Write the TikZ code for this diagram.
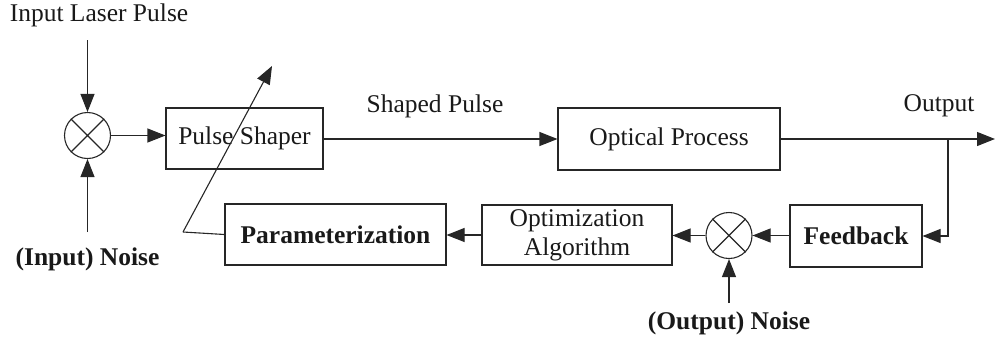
\documentclass[tikz,border=0pt]{standalone}
\usepackage{fontspec}
\setmainfont{Liberation Serif}
\usetikzlibrary{arrows.meta}
\begin{document}
\begin{tikzpicture}[x=1pt,y=-1pt,
  line width=1.1pt, draw=black!85,
  every node/.style={font=\fontsize{25.5}{29}\selectfont, text=black!90},
  blk/.style={draw, line width=1.1pt, inner sep=0pt, align=center},
  sumc/.style={draw, circle, line width=1.1pt, minimum size=46pt, inner sep=0pt},
  arr/.style={-{Triangle[length=18pt,width=14pt]}},
  bf/.style={font=\fontsize{25.5}{29}\selectfont\bfseries}]
\useasboundingbox (0,0) rectangle (995,341);
% summing junctions
\node[sumc] (s1) at (87.5,135.5) {};
\draw (s1.north west) -- (s1.south east) (s1.north east) -- (s1.south west);
\node[sumc] (s2) at (729,235.5) {};
\draw (s2.north west) -- (s2.south east) (s2.north east) -- (s2.south west);
% blocks
\node[blk, minimum width=157pt, minimum height=61pt] (ps) at (244.5,138.5) {Pulse Shaper};
\node[blk, minimum width=222pt, minimum height=62pt] (op) at (669,139) {Optical Process};
\node[blk, bf, minimum width=221pt, minimum height=61pt] (pa) at (335.5,234.5) {Parameterization};
\node[blk, minimum width=190pt, minimum height=60pt, font=\fontsize{25.5}{28}\selectfont] (oa) at (577,235) {Optimization\\[1pt]Algorithm};
\node[blk, bf, minimum width=132pt, minimum height=62pt] (fb) at (856,236) {Feedback};
% labels
\node (lin) at (99,15) {Input Laser Pulse};
\node[bf] (nin) at (87.5,259) {(Input) Noise};
\node[bf] (nout) at (729,323) {(Output) Noise};
\node (lsp) at (435,106) {Shaped Pulse};
\node (lout) at (939,106) {Output};
% coordinates
\coordinate (inTop) at (87.5,40);
\coordinate (inBot) at (87.5,232);
\coordinate (outBot) at (729,303);
\coordinate (outEnd) at (995,139);
\coordinate (br) at (948,139);
\coordinate (kink) at (183,232);
\coordinate (tip) at (272,66);
% connectors
\draw[arr] (inTop) -- (s1.north);
\draw[arr] (inBot) -- (s1.south);
\draw[arr] (s1.east) -- (s1.east -| ps.west);
\draw[arr] (ps.east |- 0,139) -- (op.west);
\draw[arr] (op.east) -- (outEnd);
\draw[arr] (br) |- (fb.east);
\draw[arr] (fb.west |- s2.east) -- (s2.east);
\draw[arr] (outBot) -- (s2.south);
\draw[arr] (s2.west) -- (s2.west -| oa.east);
\draw[arr] (oa.west) -- (oa.west -| pa.east);
\draw (pa.west) -- (kink);
\draw[arr] (kink) -- (tip);
\end{tikzpicture}
\end{document}
